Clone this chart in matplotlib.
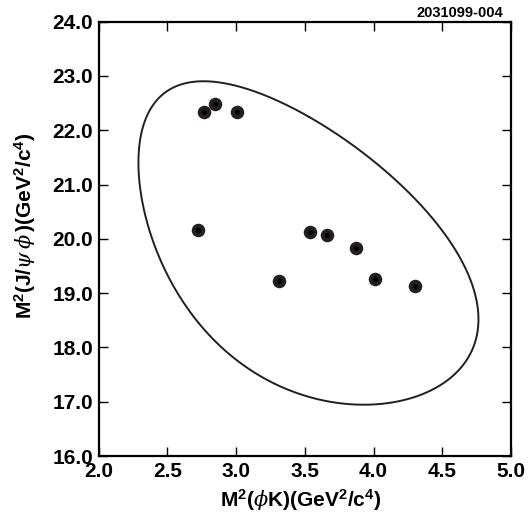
import numpy as np
import matplotlib
matplotlib.use("Agg")
import matplotlib.pyplot as plt

plt.rcParams['font.family'] = ['Liberation Sans', 'DejaVu Sans']
plt.rcParams['mathtext.fontset'] = 'custom'
plt.rcParams['mathtext.rm'] = 'Liberation Sans:bold'
plt.rcParams['mathtext.bf'] = 'Liberation Sans:bold'
plt.rcParams['mathtext.it'] = 'DejaVu Serif:italic'

# candidate events: M^2(phi K) and M^2(J/psi phi) in GeV^2/c^4
m2_phik = [2.77, 2.85, 3.01, 2.72, 3.31, 3.54, 3.66, 3.87, 4.01, 4.30]
m2_jpsiphi = [22.33, 22.48, 22.33, 20.16, 19.23, 20.13, 20.07, 19.84, 19.26, 19.13]

# masses (GeV/c^2) used for the Dalitz boundary
m_b = 5.2794
m_jpsi = 3.0969
m_phi = 1.0195
m_k = 0.4937

x_ticks = [2.0, 2.5, 3.0, 3.5, 4.0, 4.5, 5.0]
y_ticks = [16.0, 17.0, 18.0, 19.0, 20.0, 21.0, 22.0, 23.0, 24.0]


def dalitz_boundary(n=600):
    lo = (m_phi + m_k) ** 2
    hi = (m_b - m_jpsi) ** 2
    # cosine spacing so the ends of the contour are smooth
    t = np.linspace(0, np.pi, n)
    x = lo + (hi - lo) * (1 - np.cos(t)) / 2
    sx = np.sqrt(x)
    e_phi = (x - m_k ** 2 + m_phi ** 2) / (2 * sx)
    e_j = (m_b ** 2 - x - m_jpsi ** 2) / (2 * sx)
    p_phi = np.sqrt(np.clip(e_phi ** 2 - m_phi ** 2, 0, None))
    p_j = np.sqrt(np.clip(e_j ** 2 - m_jpsi ** 2, 0, None))
    upper = (e_phi + e_j) ** 2 - (p_phi - p_j) ** 2
    lower = (e_phi + e_j) ** 2 - (p_phi + p_j) ** 2
    xs = np.concatenate([x, x[::-1][1:]])
    ys = np.concatenate([upper, lower[::-1][1:]])
    # start the line on the top of the contour, not at the left tip
    shift = n // 2
    xs = np.roll(xs, -shift)
    ys = np.roll(ys, -shift)
    return np.append(xs, xs[0]), np.append(ys, ys[0])


fig = plt.figure(figsize=(5.28, 5.25), dpi=100)
ax = fig.add_axes([0.1867, 0.1314, 0.7811, 0.8273])

bx, by = dalitz_boundary()
ax.plot(bx, by, color='#231f20', lw=1.4, solid_capstyle='round', solid_joinstyle='round')

ax.scatter(m2_phik, m2_jpsiphi, s=95, color='#231f20', zorder=3, linewidths=0)
ax.scatter(m2_phik, m2_jpsiphi, s=14, color='black', zorder=4, linewidths=0)

ax.set_xlim(2.0, 5.0)
ax.set_ylim(16.0, 24.0)
ax.set_xticks(x_ticks)
ax.set_yticks(y_ticks)
ax.set_xticklabels([f"{v:.1f}" for v in x_ticks], fontsize=15, fontweight='bold')
ax.set_yticklabels([f"{v:.1f}" for v in y_ticks], fontsize=15, fontweight='bold')
ax.tick_params(direction='in', length=6.5, width=1, top=True, right=True, pad=4)
for sp in ax.spines.values():
    sp.set_linewidth(1.6)

ax.set_xlabel(r'$\mathbf{M^2(}\phi\mathbf{K)(GeV^2/c^4)}$', fontsize=15)
ax.set_ylabel(r'$\mathbf{M^2(J/}\psi\,\phi\,\mathbf{)(GeV^2/c^4)}$', fontsize=15)
ax.xaxis.set_label_coords(0.49, -0.072)
ax.yaxis.set_label_coords(-0.147, 0.53)

fig.text(0.953, 0.9676, '2031099-004', ha='right', va='baseline',
         fontsize=10.5, fontweight='bold')

fig.savefig('out.png', dpi=100)
